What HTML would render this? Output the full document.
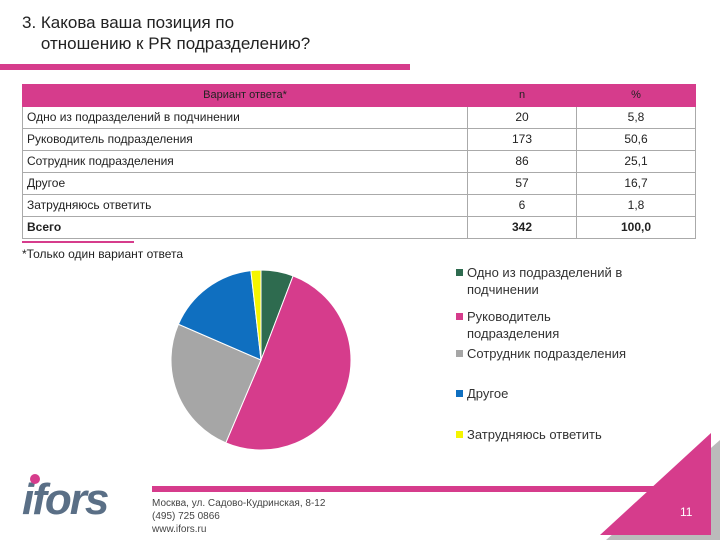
<!DOCTYPE html>
<html><head><meta charset="utf-8"><style>
body{margin:0;width:720px;height:540px;background:#fff;position:relative;overflow:hidden;font-family:"Liberation Sans","DejaVu Sans",sans-serif}
.abs{position:absolute}
table{border-collapse:collapse;position:absolute;left:22px;top:84px;width:674px;font-size:12px;color:#222}
td{border:1px solid #aaa;padding:0 4px;height:21px;line-height:21px}
td.c{text-align:center}
tr.h td{background:#d63c8c;border-color:#d63c8c;font-size:11px;height:20px}
.leg{position:absolute;left:467px;font-size:13px;color:#333;line-height:17px}
.sq{position:absolute;left:-11px;top:5px;width:7px;height:7px}
</style></head><body>
<div class="abs" style="left:22px;top:12px;font-size:17px;color:#222;line-height:21px">3. Какова ваша позиция по<br>&nbsp;&nbsp;&nbsp;&nbsp;отношению к PR подразделению?</div>
<div class="abs" style="left:0;top:64px;width:410px;height:6px;background:#d63c8c"></div>
<table>
<tr class="h"><td class="c" style="width:436px">Вариант ответа*</td><td class="c" style="width:100px">n</td><td class="c">%</td></tr>
<tr><td>Одно из подразделений в подчинении</td><td class="c">20</td><td class="c">5,8</td></tr>
<tr><td>Руководитель подразделения</td><td class="c">173</td><td class="c">50,6</td></tr>
<tr><td>Сотрудник подразделения</td><td class="c">86</td><td class="c">25,1</td></tr>
<tr><td>Другое</td><td class="c">57</td><td class="c">16,7</td></tr>
<tr><td>Затрудняюсь ответить</td><td class="c">6</td><td class="c">1,8</td></tr>
<tr><td><b>Всего</b></td><td class="c"><b>342</b></td><td class="c"><b>100,0</b></td></tr>
</table>
<div class="abs" style="left:22px;top:241px;width:112px;height:2px;background:#d63c8c"></div>
<div class="abs" style="left:22px;top:247px;font-size:12px;color:#222">*Только один вариант ответа</div>
<svg id="pie" class="abs" style="left:0;top:0" width="720" height="540"></svg>
<div class="leg" style="top:264px"><span class="sq" style="background:#2e6b4f"></span>Одно из подразделений в<br>подчинении</div>
<div class="leg" style="top:308px"><span class="sq" style="background:#d63c8c"></span>Руководитель<br>подразделения</div>
<div class="leg" style="top:345px"><span class="sq" style="background:#a6a6a6"></span>Сотрудник подразделения</div>
<div class="leg" style="top:385px"><span class="sq" style="background:#0f6fc0"></span>Другое</div>
<div class="leg" style="top:426px"><span class="sq" style="background:#f5f500"></span>Затрудняюсь ответить</div>
<div class="abs" style="left:22px;top:478px;font-size:44px;font-weight:bold;font-style:italic;color:#5a6f86;letter-spacing:-2px;line-height:44px">ifors</div>
<div class="abs" style="left:30px;top:474px;width:10px;height:10px;border-radius:50%;background:#d63c8c"></div>
<div class="abs" style="left:152px;top:486px;width:520px;height:6px;background:#d63c8c"></div>
<div class="abs" style="left:152px;top:497px;font-size:10px;line-height:13px;color:#444">Москва, ул. Садово-Кудринская, 8-12<br>(495) 725 0866<br>www.ifors.ru</div>
<svg class="abs" style="left:0;top:0" width="720" height="540">
<polygon points="720,440 720,540 606,540" fill="#bbb"/>
<polygon points="711,433 711,535 600,535" fill="#d63c8c"/>
</svg>
<div class="abs" style="left:680px;top:505px;font-size:12px;color:#fff">11</div>
<script>
const categories=["Одно из подразделений в подчинении","Руководитель подразделения","Сотрудник подразделения","Другое","Затрудняюсь ответить"];
const values=[5.8,50.6,25.1,16.7,1.8];
const colors=["#2e6b4f","#d63c8c","#a6a6a6","#0f6fc0","#f5f500"];
const svg=document.getElementById('pie');
const cx=261,cy=360,r=90;
const total=values.reduce((a,b)=>a+b,0);
let a0=0;
values.forEach((v,i)=>{
  const a1=a0+v/total*2*Math.PI;
  const x0=cx+r*Math.sin(a0),y0=cy-r*Math.cos(a0),x1=cx+r*Math.sin(a1),y1=cy-r*Math.cos(a1);
  const p=document.createElementNS('http://www.w3.org/2000/svg','path');
  p.setAttribute('d',`M${cx},${cy}L${x0},${y0}A${r},${r} 0 ${a1-a0>Math.PI?1:0} 1 ${x1},${y1}Z`);
  p.setAttribute('fill',colors[i]);p.setAttribute('stroke','#fff');p.setAttribute('stroke-width','1');
  
  
  svg.appendChild(p);a0=a1;
});
</script>
</body></html>
